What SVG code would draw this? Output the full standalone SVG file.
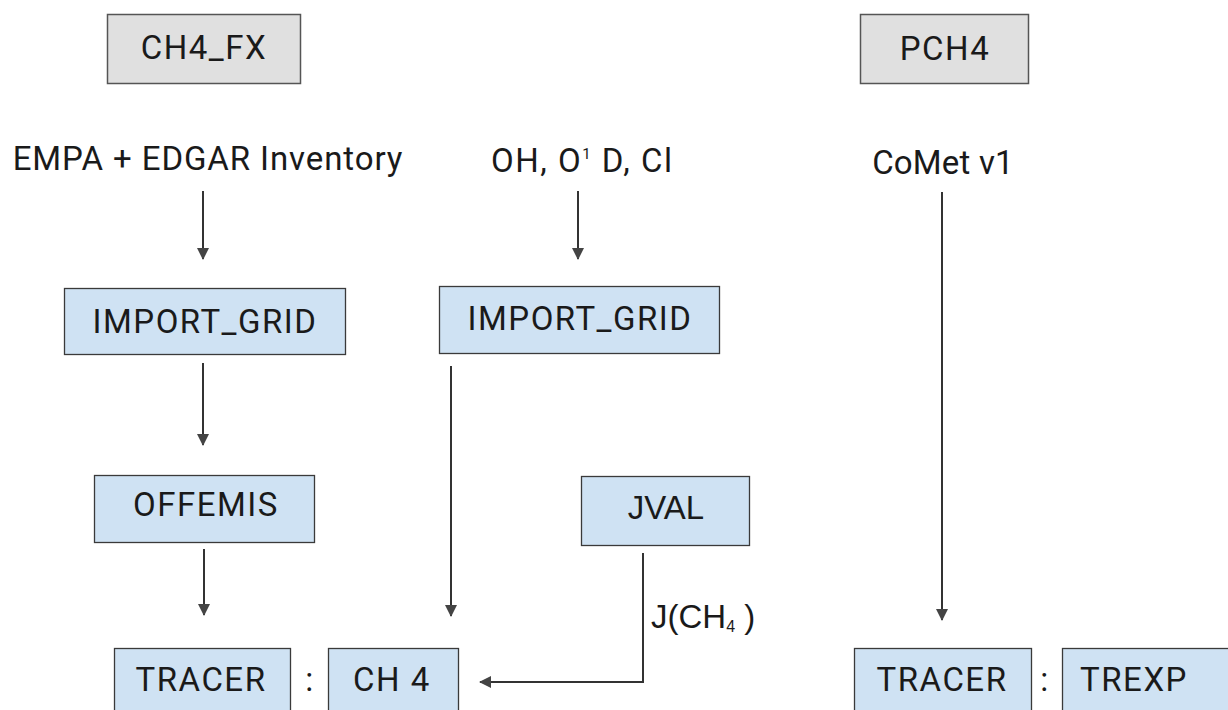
<svg xmlns="http://www.w3.org/2000/svg" width="1228" height="710" viewBox="0 0 1228 710">
<defs>
<style>
.gray{fill:#e0e0e0;stroke:#555;stroke-width:1.5}
.blue{fill:#cfe2f3;stroke:#3a3a3a;stroke-width:1.3}
.t{font-family:Roboto,"Liberation Sans",sans-serif;font-size:33px;fill:#1a1a1a;text-anchor:middle;letter-spacing:1.5px}
.ta{font-family:"Liberation Sans",Arial,sans-serif;font-size:33px;fill:#1a1a1a;text-anchor:middle}
.c{stroke:#333;stroke-width:2;fill:none;marker-end:url(#ah)}
</style>
<marker id="ah" viewBox="0 0 12 12" refX="11" refY="6" markerWidth="12" markerHeight="12" markerUnits="userSpaceOnUse" orient="auto">
<path d="M0,0 L12,6 L0,12 Z" fill="#444"/>
</marker>
</defs>
<rect width="1228" height="710" fill="#fff"/>
<g id="ch4_fx"><rect class="gray" x="107.5" y="14.5" width="193" height="69"/><text class="t" x="204" y="59">CH4_FX</text></g>
<g id="pch4"><rect class="gray" x="860.5" y="14.5" width="168" height="69"/><text class="t" x="945" y="60">PCH4</text></g>
<g id="empa"><text class="t" x="208" y="170" style="letter-spacing:0.9px">EMPA + EDGAR Inventory</text></g>
<g id="oh"><text class="t" x="491" y="172" style="text-anchor:start;letter-spacing:1.5px">OH, O<tspan font-size="15" dy="-13">1</tspan><tspan dy="13"> D, Cl</tspan></text></g>
<g id="comet"><text class="t" x="943" y="174" style="letter-spacing:0.2px">CoMet v1</text></g>
<g id="import_grid_1"><rect class="blue" x="64.5" y="288.5" width="281" height="66"/><text class="t" x="205" y="333">IMPORT_GRID</text></g>
<g id="import_grid_2"><rect class="blue" x="439.5" y="286.5" width="280" height="67"/><text class="t" x="580" y="330">IMPORT_GRID</text></g>
<g id="offemis"><rect class="blue" x="94.5" y="475.5" width="220" height="67"/><text class="t" x="206" y="516">OFFEMIS</text></g>
<g id="jval"><rect class="blue" x="581.5" y="476.5" width="168" height="69"/><text class="ta" x="666" y="519">JVAL</text></g>
<g id="tracer_1"><rect class="blue" x="114.5" y="648.5" width="176" height="70"/><text class="t" x="201" y="691">TRACER</text></g>
<g id="colon_1"><text class="t" x="310" y="691">:</text></g>
<g id="ch4"><rect class="blue" x="328.5" y="648.5" width="130" height="70"/><text class="t" x="392" y="691">CH 4</text></g>
<g id="tracer_2"><rect class="blue" x="854.5" y="648.5" width="177" height="70"/><text class="t" x="942" y="691">TRACER</text></g>
<g id="colon_2"><text class="t" x="1045" y="691">:</text></g>
<g id="trexp"><rect class="blue" x="1062.5" y="648.5" width="175" height="70"/><text class="t" x="1134" y="691">TREXP</text></g>
<g id="connectors">
<path class="c" d="M203,191 V259"/>
<path class="c" d="M203,363 V445"/>
<path class="c" d="M204,549 V615"/>
<path class="c" d="M578,191 V259"/>
<path class="c" d="M451,366 V616"/>
<path class="c" d="M942,192 V620"/>
<path class="c" d="M643,553 V682 H480"/>
<text class="ta" x="651" y="628" style="text-anchor:start">J(CH<tspan font-size="16" dy="4">4</tspan><tspan dy="-4"> )</tspan></text>
</g>
</svg>
